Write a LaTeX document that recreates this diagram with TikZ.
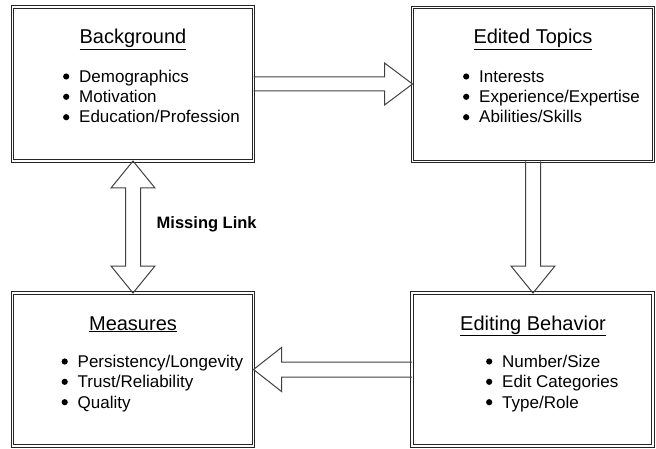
\documentclass[tikz,border=0pt]{standalone}
\usepackage{fontspec}
\setmainfont{Liberation Sans}
\usetikzlibrary{calc}
\begin{document}
\begin{tikzpicture}[x=1pt,y=-1pt,
  box/.style={draw=black!85, double=white, double distance=1.3pt, line width=0.9pt,
    minimum width=241pt, inner sep=0pt, outer sep=0pt},
  ttl/.style={font=\fontsize{20}{24}\selectfont, anchor=base, inner sep=0pt},
  itm/.style={font=\fontsize{17}{20}\selectfont, anchor=base west, inner sep=0pt},
  arr/.style={draw=black!75, line width=1pt, line join=miter}]
\useasboundingbox (0,0) rectangle (656,449);
% boxes
\node[box, minimum height=154pt] (bg) at (133,84) {};
\node[box, minimum height=154pt] (et) at (533,84.5) {};
\node[box, minimum height=153pt] (ms) at (133,369.5) {};
\node[box, minimum height=153pt] (eb) at (532.5,369.5) {};
% titles
\node[ttl] (bgt) at (133,43.3) {\underline{Background}};
\node[ttl] (ett) at (533,43.3) {\underline{Edited Topics}};
\node[ttl] (mst) at (133,330) {\underline{Measures}};
\node[ttl] (ebt) at (533,330) {\underline{Editing Behavior}};
% items
\node[itm] (bg1) at (79,82.3) {Demographics};
\node[itm] (bg2) at (79,102.6) {Motivation};
\node[itm] (bg3) at (79,123) {Education/Profession};
\node[itm] (et1) at (479,82.3) {Interests};
\node[itm] (et2) at (479,102.6) {Experience/Expertise};
\node[itm] (et3) at (479,123) {Abilities/Skills};
\node[itm] (ms1) at (77.5,367.3) {Persistency/Longevity};
\node[itm] (ms2) at (77.5,387.6) {Trust/Reliability};
\node[itm] (ms3) at (77.5,408) {Quality};
\node[itm] (eb1) at (502,367.3) {Number/Size};
\node[itm] (eb2) at (502,387.6) {Edit Categories};
\node[itm] (eb3) at (502,408) {Type/Role};
% bullets
\foreach \n in {bg1,bg2,bg3,et1,et2,et3,ms1,ms2,ms3,eb1,eb2,eb3}
  \fill[black] ($(\n.base west)+(-12.8,-5.8)$) circle (3.1pt);
% label
\node[font=\fontsize{16.5}{20}\selectfont\bfseries, anchor=base, inner sep=0pt] (ml) at (206.7,228.3) {Missing Link};
% arrows
\draw[arr] ($(bg.east)+(0,-7)$) -- ($(et.west |- bg.east)+(-28,-7)$) -- ($(et.west |- bg.east)+(-28,-21)$)
  -- (et.west |- bg.east) -- ($(et.west |- bg.east)+(-28,21)$) -- ($(et.west |- bg.east)+(-28,7)$) -- ($(bg.east)+(0,7)$);
\draw[arr] ($(et.south)+(-7.5,0)$) -- ($(et.south |- eb.north)+(-7.5,-27)$) -- ($(et.south |- eb.north)+(-22,-27)$)
  -- (et.south |- eb.north) -- ($(et.south |- eb.north)+(22,-27)$) -- ($(et.south |- eb.north)+(7.5,-27)$) -- ($(et.south)+(7.5,0)$);
\draw[arr] ($(eb.west)+(0,-7.5)$) -- ($(ms.east)+(28,-7.5)$) -- ($(ms.east)+(28,-22)$)
  -- (ms.east) -- ($(ms.east)+(28,22)$) -- ($(ms.east)+(28,7.5)$) -- ($(eb.west)+(0,7.5)$);
\draw[arr] (bg.south) -- ($(bg.south)+(22,27)$) -- ($(bg.south)+(7.5,27)$) -- ($(ms.north)+(7.5,-27)$)
  -- ($(ms.north)+(22,-27)$) -- (ms.north) -- ($(ms.north)+(-22,-27)$) -- ($(ms.north)+(-7.5,-27)$)
  -- ($(bg.south)+(-7.5,27)$) -- ($(bg.south)+(-22,27)$) -- cycle;
\end{tikzpicture}
\end{document}
